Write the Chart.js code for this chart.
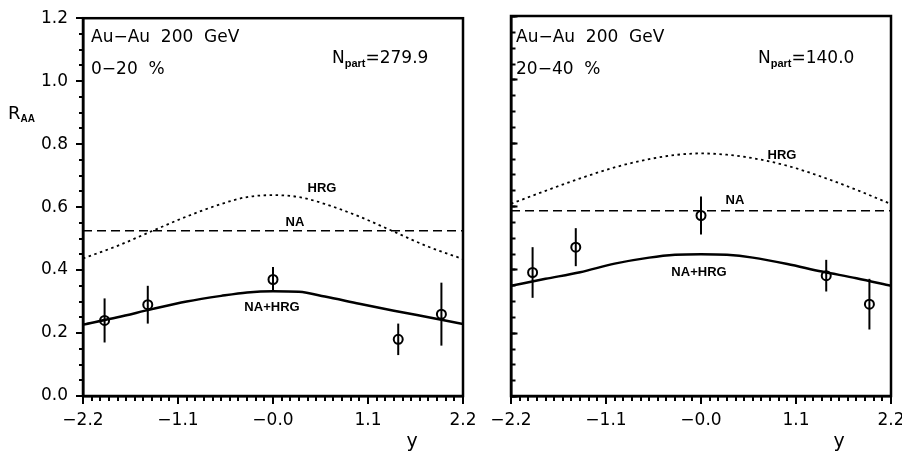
<!DOCTYPE html>
<html>
<head>
<meta charset="utf-8">
<script src="https://cdn.jsdelivr.net/npm/chart.js@4.4.0/dist/chart.umd.min.js"></script>
<style>
  html, body { margin: 0; padding: 0; background: #fff; overflow: hidden; }
  #wrap { position: relative; width: 902px; height: 454px; }
  canvas { position: absolute; top: 0; }
</style>
</head>
<body>
<div id="wrap">
  <canvas id="left" width="490" height="454" style="left:0px"></canvas>
  <canvas id="right" width="470" height="454" style="left:450px"></canvas>
</div>
<script>
// rapidity points where the model curves are read
var yGrid = [-2.2, -1.8, -1.4, -1.0, -0.6, -0.3, 0, 0.3, 0.6, 1.0, 1.4, 1.8, 2.2];

// 0-20 %
var hrgLeft   = [0.437, 0.477, 0.524, 0.570, 0.610, 0.632, 0.638, 0.632, 0.610, 0.570, 0.522, 0.474, 0.435];
var naHrgLeft = [0.227, 0.250, 0.276, 0.300, 0.318, 0.329, 0.333, 0.331, 0.316, 0.293, 0.271, 0.250, 0.229];
var naLeft = 0.525;

// 20-40 %
var hrgRight   = [0.607, 0.648, 0.687, 0.722, 0.748, 0.761, 0.766, 0.762, 0.751, 0.727, 0.692, 0.651, 0.606];
var naHrgRight = [0.348, 0.370, 0.391, 0.418, 0.437, 0.446, 0.448, 0.446, 0.437, 0.417, 0.393, 0.372, 0.348];
var naRight = 0.585;

// measured points
var dataY    = [-1.95, -1.45, 0, 1.45, 1.95];
var raaLeft  = [0.24, 0.29, 0.37, 0.18, 0.26];
var errLeft  = [0.07, 0.06, 0.04, 0.05, 0.10];
var raaRight = [0.39, 0.47, 0.57, 0.38, 0.29];
var errRight = [0.08, 0.06, 0.06, 0.05, 0.08];

// ticks
var xMajor = [-2.2, -1.1, 0, 1.1, 2.2];
var yMajor = [0, 0.2, 0.4, 0.6, 0.8, 1.0, 1.2];

var FONT = 'DejaVu Sans';

function toXY(xs, ys) {
  return xs.map(function(x, i) { return {x: x, y: ys[i]}; });
}

function fmtX(v) {
  if (v === 0) return '\u22120.0';
  return v < 0 ? '\u2212' + (-v).toFixed(1) : v.toFixed(1);
}

var errorBars = {
  id: 'errorBars',
  beforeDatasetsDraw: function(chart) {
    var ctx = chart.ctx, xs = chart.scales.x, ys = chart.scales.y;
    chart.data.datasets.forEach(function(ds) {
      if (!ds.errors) return;
      ctx.save();
      ctx.strokeStyle = '#000';
      ctx.lineWidth = 2;
      ds.data.forEach(function(p, i) {
        var px = xs.getPixelForValue(p.x);
        ctx.beginPath();
        ctx.moveTo(px, ys.getPixelForValue(p.y - ds.errors[i]));
        ctx.lineTo(px, ys.getPixelForValue(p.y + ds.errors[i]));
        ctx.stroke();
      });
      ctx.restore();
    });
  }
};

// inward y ticks (right panel) taken from the scales' own tick lists
var innerTicks = {
  id: 'innerTicks',
  afterDraw: function(chart) {
    if (!chart.options.plugins.innerTicks.on) return;
    var ctx = chart.ctx, a = chart.chartArea;
    ctx.save();
    ctx.strokeStyle = '#000';
    ctx.lineWidth = 2;
    [['ym', 4.5], ['y', 6.5]].forEach(function(s) {
      var sc = chart.scales[s[0]];
      sc.ticks.forEach(function(t) {
        var py = Math.round(sc.getPixelForValue(t.value)) + 0.5;
        ctx.beginPath();
        ctx.moveTo(a.left, py);
        ctx.lineTo(a.left + s[1], py);
        ctx.stroke();
      });
    });
    ctx.restore();
  }
};

var frameAndNotes = {
  id: 'frameAndNotes',
  afterDraw: function(chart) {
    var ctx = chart.ctx, a = chart.chartArea;
    ctx.save();
    ctx.strokeStyle = '#000';
    ctx.lineWidth = 2.5;
    ctx.strokeRect(a.left, a.top, a.right - a.left, a.bottom - a.top);
    ctx.fillStyle = '#000';
    ctx.textBaseline = 'alphabetic';
    (chart.options.plugins.frameAndNotes.notes || []).forEach(function(n) {
      var x = n.x;
      var parts = n.parts || [{t: n.text, font: n.font}];
      ctx.textAlign = n.parts ? 'left' : (n.align || 'left');
      parts.forEach(function(p) {
        ctx.font = p.font || n.font;
        ctx.fillText(p.t, x, n.y + (p.dy || 0));
        x += ctx.measureText(p.t).width;
      });
    });
    ctx.restore();
  }
};

function makePanel(id, o) {
  var big = '17px "' + FONT + '"';
  var small = 'bold 13px "Liberation Sans"';
  var sub = 'bold 11px "Liberation Sans"';
  var notes = [
    {text: 'Au\u2212Au  200  GeV', x: o.textX, y: 42, font: big},
    {text: o.cent, x: o.textX, y: 74, font: big},
    {parts: [{t: 'N', font: big}, {t: 'part', font: sub, dy: 4}, {t: '=' + o.npart, font: big}], x: o.npartX, y: 63},
    {text: 'HRG', x: o.hrgX, y: o.hrgY, font: small, align: 'center'},
    {text: 'NA', x: o.naX, y: o.naY, font: small, align: 'center'},
    {text: 'NA+HRG', x: o.sumX, y: o.sumY, font: small, align: 'center'},
    {text: 'y', x: o.yX, y: 447, font: '19px "' + FONT + '"', align: 'center'}
  ];
  if (o.showYLabels) {
    notes.push({parts: [{t: 'R', font: '18px "' + FONT + '"'}, {t: 'AA', font: 'bold 10px "Liberation Sans"', dy: 3}], x: 8, y: 119});
  }

  return new Chart(document.getElementById(id), {
    type: 'scatter',
    data: {
      datasets: [
        {
          label: 'HRG',
          data: toXY(yGrid, o.hrg),
          showLine: true,
          borderColor: '#000',
          borderWidth: 1.8,
          borderDash: [2.5, 3.5],
          pointRadius: 0,
          cubicInterpolationMode: 'monotone'
        },
        {
          label: 'NA',
          data: toXY([-2.2, 2.2], [o.na, o.na]),
          showLine: true,
          borderColor: '#000',
          borderWidth: 1.6,
          borderDash: [9, 5],
          pointRadius: 0
        },
        {
          label: 'NA+HRG',
          data: toXY(yGrid, o.sum),
          showLine: true,
          borderColor: '#000',
          borderWidth: 2.5,
          pointRadius: 0,
          cubicInterpolationMode: 'monotone'
        },
        {
          label: 'data',
          data: toXY(dataY, o.raa),
          errors: o.err,
          showLine: false,
          borderColor: '#000',
          backgroundColor: 'rgba(0,0,0,0)',
          pointRadius: 4.5,
          pointBorderWidth: 2,
          pointBackgroundColor: 'rgba(0,0,0,0)'
        }
      ]
    },
    options: {
      responsive: false,
      animation: false,
      devicePixelRatio: 1,
      layout: { padding: { left: 0, top: 16, right: o.padRight, bottom: 0 } },
      plugins: {
        legend: { display: false },
        tooltip: { enabled: false },
        innerTicks: { on: !o.showYLabels },
        frameAndNotes: { notes: notes }
      },
      scales: {
        x: {
          type: 'linear', position: 'bottom', min: -2.2, max: 2.2, weight: 1,
          afterBuildTicks: function(s) { s.ticks = xMajor.map(function(v) { return {value: v}; }); },
          afterFit: function(s) { s.height = 58; },
          ticks: { font: { family: FONT, size: 17 }, color: '#000', padding: 6, autoSkip: false, maxRotation: 0, callback: fmtX },
          grid: { drawOnChartArea: false, tickLength: 8, lineWidth: 2, color: '#000' },
          border: { width: 2.5, color: '#000' }
        },
        xm: {
          type: 'linear', position: 'bottom', min: -2.2, max: 2.2, weight: 0,
          afterFit: function(s) { s.height = 0; },
          ticks: { display: false, stepSize: 0.1, autoSkip: false },
          grid: { drawOnChartArea: false, tickLength: 5, lineWidth: 2, color: '#000' },
          border: { display: false }
        },
        y: {
          type: 'linear', position: 'left', min: 0, max: 1.2, weight: 1,
          afterBuildTicks: function(s) { s.ticks = yMajor.map(function(v) { return {value: v}; }); },
          afterFit: function(s) { s.width = o.axisW; },
          ticks: { display: o.showYLabels, font: { family: FONT, size: 17 }, color: '#000', padding: 8,
                   callback: function(v) { return v.toFixed(1); } },
          grid: { drawOnChartArea: false, drawTicks: o.showYLabels, tickLength: 7, lineWidth: 2, color: '#000' },
          border: { width: 2.5, color: '#000' }
        },
        ym: {
          type: 'linear', position: 'left', min: 0, max: 1.2, weight: 0,
          afterFit: function(s) { s.width = 0; },
          ticks: { display: false, stepSize: 0.05, autoSkip: false },
          grid: { drawOnChartArea: false, drawTicks: o.showYLabels, tickLength: 4, lineWidth: 2, color: '#000' },
          border: { display: false }
        }
      }
    },
    plugins: [errorBars, innerTicks, frameAndNotes]
  });
}

var leftChart = makePanel('left', {
  hrg: hrgLeft, sum: naHrgLeft, na: naLeft, raa: raaLeft, err: errLeft,
  cent: '0\u221220  %', npart: '279.9',
  axisW: 83, padRight: 27, showYLabels: true,
  textX: 91, npartX: 332, hrgX: 322, hrgY: 192, naX: 295, naY: 226, sumX: 272, sumY: 311, yX: 412
});

var rightChart = makePanel('right', {
  hrg: hrgRight, sum: naHrgRight, na: naRight, raa: raaRight, err: errRight,
  cent: '20\u221240  %', npart: '140.0',
  axisW: 61, padRight: 29, showYLabels: false,
  textX: 66, npartX: 308, hrgX: 332, hrgY: 159, naX: 285, naY: 204, sumX: 249, sumY: 276, yX: 389
});
</script>
</body>
</html>
